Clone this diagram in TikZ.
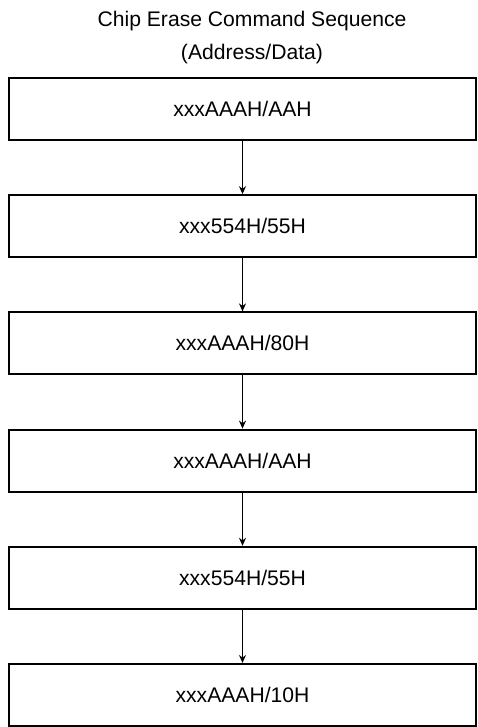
\documentclass[tikz,border=0pt]{standalone}
\usepackage{fontspec}
\setmainfont{Liberation Sans}
\usetikzlibrary{arrows.meta, positioning}
\tikzset{
  stepbox/.style = {draw, line width=2bp, minimum width=467bp,
                    minimum height=62bp, inner sep=0pt, font=\fontsize{21.2}{25}\selectfont},
  title/.style   = {font=\fontsize{21.2}{25}\selectfont, inner sep=0pt},
  flow/.style    = {-{Stealth[length=8bp, width=7bp]}, line width=1.4bp, black}
}
\begin{document}
\begin{tikzpicture}[x=1bp, y=1bp, node distance=53.2bp]
\useasboundingbox (0,0) rectangle (478,-727);
% Heading
\node[title] (head) at (252,-21.5) {Chip Erase Command Sequence};
\node[title] (sub)  at (252,-54.5) {(Address/Data)};
% Command cycles
\node[stepbox] (c1) at (242.5,-109) {xxxAAAH/AAH};
\node[stepbox, below=of c1] (c2) {xxx554H/55H};
\node[stepbox, below=of c2] (c3) {xxxAAAH/80H};
\node[stepbox, below=of c3] (c4) {xxxAAAH/AAH};
\node[stepbox, below=of c4] (c5) {xxx554H/55H};
\node[stepbox, below=of c5] (c6) {xxxAAAH/10H};
\foreach \a/\b in {c1/c2, c2/c3, c3/c4, c4/c5, c5/c6}
  \draw[flow] (\a) -- (\b);
\end{tikzpicture}
\end{document}
